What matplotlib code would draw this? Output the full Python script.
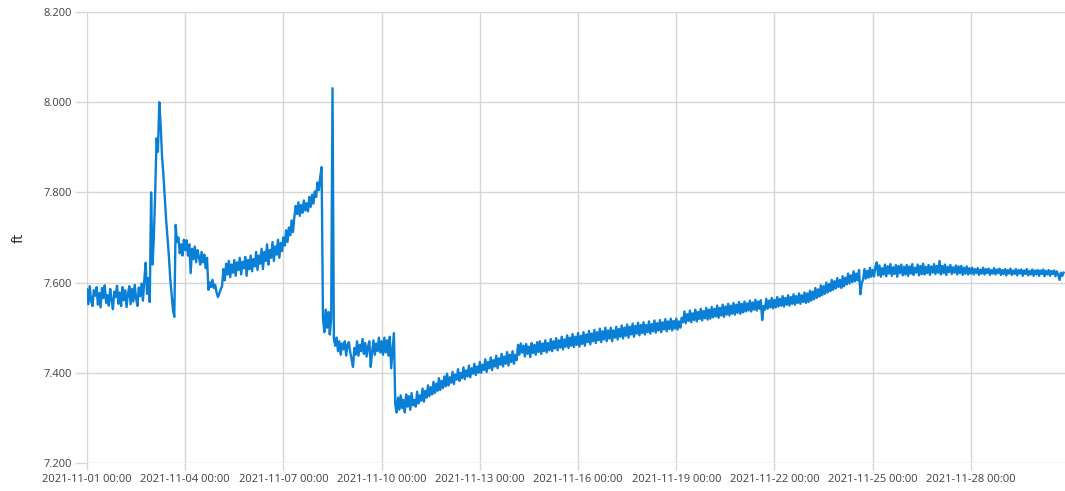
import matplotlib
matplotlib.use("Agg")
import matplotlib.pyplot as plt
import matplotlib.dates as mdates
import matplotlib.ticker as mticker
import pandas as pd

# ---- data: water level (ft), one reading every hour from 2021-11-01 00:00 ----
start_time = "2021-11-01 00:00"
step = "1h"
level_ft = [
    # Nov 1
    7.585, 7.552, 7.592, 7.560, 7.548, 7.583, 7.571, 7.590, 7.551, 7.577, 7.545, 7.588,
    7.566, 7.594, 7.555, 7.572, 7.549, 7.586, 7.562, 7.541, 7.580, 7.568, 7.593, 7.553,
    # Nov 2
    7.578, 7.548, 7.590, 7.561, 7.583, 7.546, 7.574, 7.592, 7.552, 7.586, 7.558, 7.595,
    7.565, 7.548, 7.589, 7.570, 7.598, 7.560, 7.605, 7.644, 7.575, 7.610, 7.557, 7.800,
    # Nov 3
    7.640, 7.700, 7.800, 7.920, 7.890, 8.000, 7.950, 7.880, 7.840, 7.790, 7.740, 7.700,
    7.660, 7.610, 7.575, 7.540, 7.524, 7.728, 7.690, 7.700, 7.665, 7.685, 7.660, 7.695,
    # Nov 4
    7.672, 7.694, 7.660, 7.685, 7.621, 7.675, 7.652, 7.680, 7.645, 7.672, 7.658, 7.640,
    7.668, 7.645, 7.662, 7.632, 7.655, 7.584, 7.600, 7.590, 7.606, 7.588, 7.595, 7.578,
    # Nov 5
    7.568, 7.576, 7.585, 7.592, 7.630, 7.605, 7.642, 7.618, 7.648, 7.612, 7.640, 7.622,
    7.650, 7.615, 7.645, 7.628, 7.655, 7.618, 7.646, 7.632, 7.657, 7.615, 7.650, 7.630,
    # Nov 6
    7.660, 7.625, 7.652, 7.636, 7.668, 7.628, 7.660, 7.642, 7.675, 7.630, 7.668, 7.648,
    7.685, 7.640, 7.672, 7.655, 7.690, 7.648, 7.680, 7.662, 7.695, 7.655, 7.688, 7.670,
    # Nov 7
    7.700, 7.682, 7.716, 7.690, 7.722, 7.705, 7.738, 7.712, 7.745, 7.770, 7.752, 7.778,
    7.748, 7.772, 7.755, 7.782, 7.760, 7.776, 7.758, 7.790, 7.768, 7.795, 7.775, 7.802,
    # Nov 8
    7.790, 7.822, 7.805, 7.835, 7.856, 7.520, 7.490, 7.540, 7.500, 7.535, 7.485, 7.520,
    8.031, 7.475, 7.460, 7.478, 7.448, 7.470, 7.440, 7.465, 7.452, 7.470, 7.438, 7.462,
    # Nov 9
    7.468, 7.445, 7.430, 7.413, 7.455, 7.440, 7.470, 7.438, 7.462, 7.448, 7.475, 7.442,
    7.466, 7.436, 7.458, 7.470, 7.413, 7.445, 7.472, 7.440, 7.465, 7.448, 7.478, 7.445,
    # Nov 10
    7.470, 7.440, 7.478, 7.445, 7.472, 7.438, 7.480, 7.410, 7.450, 7.488, 7.330, 7.312,
    7.345, 7.318, 7.350, 7.322, 7.340, 7.312, 7.352, 7.325, 7.348, 7.318, 7.355, 7.328,
    # Nov 11
    7.340, 7.325, 7.358, 7.332, 7.350, 7.338, 7.365, 7.336, 7.360, 7.345, 7.372, 7.348,
    7.368, 7.352, 7.380, 7.355, 7.376, 7.360, 7.388, 7.362, 7.382, 7.366, 7.392, 7.370,
    # Nov 12
    7.398, 7.372, 7.390, 7.378, 7.402, 7.375, 7.396, 7.385, 7.408, 7.382, 7.400, 7.388,
    7.412, 7.386, 7.405, 7.392, 7.416, 7.390, 7.410, 7.398, 7.420, 7.395, 7.414, 7.400,
    # Nov 13
    7.424, 7.400, 7.418, 7.406, 7.430, 7.402, 7.424, 7.410, 7.434, 7.406, 7.428, 7.414,
    7.438, 7.410, 7.432, 7.418, 7.442, 7.414, 7.436, 7.420, 7.446, 7.416, 7.440, 7.424,
    # Nov 14
    7.448, 7.420, 7.440, 7.428, 7.462, 7.440, 7.465, 7.445, 7.460, 7.436, 7.464, 7.442,
    7.458, 7.435, 7.466, 7.444, 7.462, 7.440, 7.468, 7.446, 7.470, 7.442, 7.465, 7.448,
    # Nov 15
    7.472, 7.445, 7.466, 7.450, 7.475, 7.448, 7.470, 7.454, 7.477, 7.450, 7.472, 7.456,
    7.480, 7.452, 7.474, 7.458, 7.483, 7.455, 7.478, 7.460, 7.486, 7.457, 7.480, 7.462,
    # Nov 16
    7.488, 7.458, 7.482, 7.464, 7.490, 7.460, 7.485, 7.468, 7.493, 7.463, 7.487, 7.470,
    7.495, 7.466, 7.490, 7.472, 7.498, 7.468, 7.492, 7.474, 7.500, 7.470, 7.494, 7.476,
    # Nov 17
    7.500, 7.470, 7.494, 7.478, 7.502, 7.474, 7.497, 7.480, 7.505, 7.476, 7.500, 7.482,
    7.507, 7.478, 7.502, 7.485, 7.509, 7.480, 7.504, 7.487, 7.511, 7.483, 7.506, 7.488,
    # Nov 18
    7.512, 7.485, 7.506, 7.490, 7.514, 7.487, 7.508, 7.492, 7.516, 7.489, 7.510, 7.494,
    7.517, 7.490, 7.512, 7.496, 7.519, 7.492, 7.514, 7.497, 7.520, 7.494, 7.515, 7.498,
    # Nov 19
    7.520, 7.496, 7.514, 7.500, 7.522, 7.512, 7.536, 7.510, 7.530, 7.515, 7.538, 7.512,
    7.532, 7.517, 7.540, 7.514, 7.535, 7.519, 7.542, 7.516, 7.537, 7.521, 7.544, 7.518,
    # Nov 20
    7.540, 7.520, 7.546, 7.523, 7.542, 7.525, 7.549, 7.522, 7.544, 7.527, 7.551, 7.524,
    7.547, 7.529, 7.553, 7.527, 7.549, 7.531, 7.555, 7.529, 7.551, 7.533, 7.557, 7.531,
    # Nov 21
    7.553, 7.534, 7.558, 7.536, 7.554, 7.538, 7.560, 7.536, 7.556, 7.540, 7.562, 7.538,
    7.558, 7.542, 7.561, 7.517, 7.548, 7.540, 7.564, 7.542, 7.560, 7.545, 7.566, 7.543,
    # Nov 22
    7.562, 7.545, 7.568, 7.547, 7.564, 7.549, 7.570, 7.547, 7.566, 7.551, 7.572, 7.549,
    7.568, 7.553, 7.574, 7.551, 7.570, 7.555, 7.576, 7.553, 7.572, 7.557, 7.578, 7.555,
    # Nov 23
    7.576, 7.557, 7.582, 7.560, 7.580, 7.563, 7.588, 7.566, 7.585, 7.569, 7.594, 7.572,
    7.592, 7.575, 7.600, 7.578, 7.597, 7.581, 7.606, 7.584, 7.603, 7.587, 7.610, 7.590,
    # Nov 24
    7.606, 7.588, 7.614, 7.592, 7.611, 7.596, 7.620, 7.598, 7.616, 7.601, 7.625, 7.603,
    7.620, 7.605, 7.628, 7.574, 7.600, 7.606, 7.630, 7.609, 7.626, 7.611, 7.633, 7.613,
    # Nov 25
    7.628, 7.614, 7.635, 7.645, 7.616, 7.638, 7.613, 7.632, 7.618, 7.640, 7.614, 7.636,
    7.620, 7.641, 7.615, 7.634, 7.619, 7.639, 7.613, 7.637, 7.621, 7.640, 7.616, 7.635,
    # Nov 26
    7.618, 7.639, 7.615, 7.636, 7.620, 7.641, 7.617, 7.633, 7.622, 7.640, 7.616, 7.637,
    7.619, 7.642, 7.618, 7.635, 7.621, 7.639, 7.617, 7.636, 7.622, 7.641, 7.619, 7.637,
    # Nov 27
    7.622, 7.648, 7.618, 7.637, 7.621, 7.640, 7.617, 7.635, 7.623, 7.639, 7.619, 7.634,
    7.622, 7.638, 7.618, 7.636, 7.621, 7.637, 7.617, 7.633, 7.620, 7.636, 7.618, 7.632,
    # Nov 28
    7.620, 7.633, 7.618, 7.630, 7.621, 7.632, 7.617, 7.629, 7.620, 7.633, 7.618, 7.630,
    7.621, 7.631, 7.617, 7.628, 7.620, 7.632, 7.618, 7.629, 7.621, 7.631, 7.617, 7.628,
    # Nov 29
    7.619, 7.630, 7.616, 7.628, 7.620, 7.631, 7.617, 7.627, 7.619, 7.630, 7.616, 7.628,
    7.620, 7.629, 7.615, 7.627, 7.619, 7.630, 7.616, 7.626, 7.618, 7.629, 7.615, 7.627,
    # Nov 30
    7.618, 7.628, 7.615, 7.627, 7.619, 7.629, 7.614, 7.626, 7.618, 7.628, 7.615, 7.626,
    7.619, 7.627, 7.614, 7.625, 7.618, 7.606, 7.622, 7.615, 7.622,
]
y_ticks = [7.2, 7.4, 7.6, 7.8, 8.0, 8.2]
x_tick_every_days = 3
x_end = "2021-11-30 21:00"
y_label = "ft"

times = pd.date_range(start_time, periods=len(level_ft), freq=step)

fig = plt.figure(figsize=(10.65, 4.91), dpi=100)
ax = fig.add_axes([87 / 1065, 28 / 491, 978 / 1065, 451 / 491])

ax.plot(times, level_ft, color="#0a7fd6", linewidth=1.7)

ax.set_ylim(7.2, 8.2)
ax.set_yticks(y_ticks)
ax.yaxis.set_major_formatter(mticker.FormatStrFormatter("%.3f"))
ax.set_xlim(pd.Timestamp(start_time), pd.Timestamp(x_end))
ax.xaxis.set_major_locator(mdates.DayLocator(interval=x_tick_every_days))
ax.xaxis.set_major_formatter(mdates.DateFormatter("%Y-%m-%d %H:%M"))

grid_color = "#d6d6d6"
ax.grid(True, color=grid_color, linewidth=1.0)
ax.set_axisbelow(True)
for s in ax.spines.values():
    s.set_visible(False)

ax.tick_params(axis="y", length=9, width=1.0, color=grid_color, pad=2,
               labelsize=8, labelcolor="#404040")
ax.tick_params(axis="x", length=5, width=1.0, color=grid_color, pad=3,
               labelsize=8, labelcolor="#404040")
for lab in ax.get_xticklabels() + ax.get_yticklabels():
    lab.set_fontfamily("Open Sans")

ax.set_ylabel(y_label, fontsize=10.5, family="Open Sans", color="#222222", labelpad=12)

fig.savefig("out.png", dpi=100)
